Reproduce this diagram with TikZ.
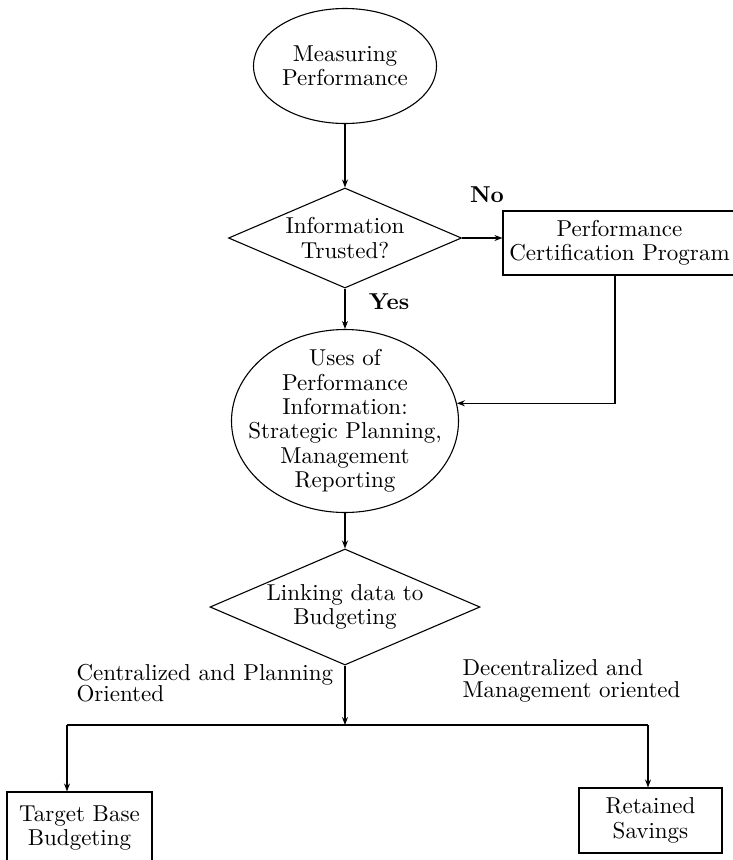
\documentclass[tikz,border=0pt]{standalone}
\usepackage{fontspec}
\setmainfont{lmroman10}[Extension=.otf,UprightFont=*-regular,BoldFont=*-bold]
\usetikzlibrary{shapes.geometric,arrows.meta}
\begin{document}
\begin{tikzpicture}[x=1pt,y=1pt,
  every node/.style={font=\fontsize{23}{24.3}\selectfont, align=center},
  lw/.style={line width=1.1pt},
  oval/.style={draw, ellipse, lw, inner sep=0pt},
  decision/.style={draw, diamond, lw, inner sep=0pt, aspect=2.33},
  stepbox/.style={draw, rectangle, lw, inner sep=0pt},
  arr/.style={lw, -{Stealth[length=8pt,width=6pt]}},
  lbl/.style={font=\fontsize{23}{24.3}\selectfont\bfseries},
  side/.style={font=\fontsize{23}{21.5}\selectfont, align=left, anchor=west}
]
\useasboundingbox (0,0) rectangle (733,-860);

% shapes
\node[oval, minimum width=183pt, minimum height=115pt] (meas) at (345,-66) {};
\node (meastext) at (meas.center) {Measuring\\Performance};

\node[decision, minimum width=233pt, minimum height=100pt] (trust) at (345,-238) {Information\\Trusted?};

\node[stepbox, minimum width=233pt, minimum height=64pt] (pcp) at (619.5,-243) {Performance\\Certification Program};

\node[oval, minimum width=227pt, minimum height=183pt] (uses) at (345,-421) {};
\node (usestext) at (uses.center) {Uses of\\Performance\\Information:\\Strategic Planning,\\Management\\Reporting};

\node[decision, minimum width=270pt, minimum height=116pt] (link) at (345,-607) {Linking data to\\Budgeting};

\node[stepbox, minimum width=145pt, minimum height=72pt] (tbb) at (79.5,-828) {Target Base\\Budgeting};
\node[stepbox, minimum width=143pt, minimum height=65pt] (rs) at (650.5,-820.5) {Retained\\Savings};

% labels
\node[lbl] (no) at (487,-195) {No};
\node[lbl] (yes) at (389,-302) {Yes};
\node[side] (cent) at (73,-683) {Centralized and Planning\\Oriented};
\node[side] (decent) at (459,-681) {Decentralized and\\Management oriented};

% connectors
\draw[arr] (meas.south) -- (trust.north);
\draw[arr] (trust.east) -- (trust.east -| pcp.west);
\draw[arr] (trust.south) -- (uses.north);
\draw[arr] ([xshift=-4.5pt]pcp.south) |- (uses.9);
\draw[arr] (uses.south) -- (link.north);
\coordinate (split) at (345,-725);
\coordinate (lt) at (67,-725);
\coordinate (rt) at (648,-725);
\draw[arr] (link.south) -- (split);
\draw[lw] (lt) -- (rt);
\draw[arr] (lt) -- (lt |- tbb.north);
\draw[arr] (rt) -- (rt |- rs.north);
\end{tikzpicture}
\end{document}
